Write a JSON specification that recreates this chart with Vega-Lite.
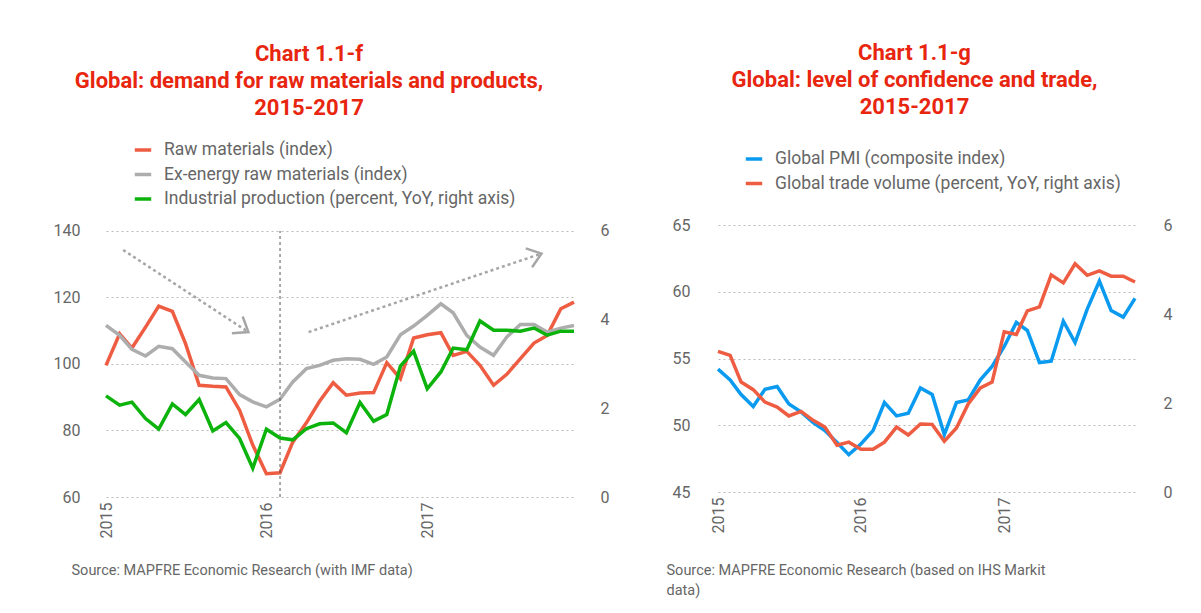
{
"$schema": "https://vega.github.io/schema/vega-lite/v6.json",
"background": "white",
"padding": {"left": 53, "top": 42, "right": 5, "bottom": 5},
"config": {
  "font": "Roboto",
  "view": {"stroke": null},
  "axis": {"domain": false, "ticks": false, "labelColor": "#666666", "labelFontSize": 16, "labelFont": "Roboto", "titleFont": "Roboto"},
  "title": {"color": "#e8260f", "fontSize": 22, "fontWeight": "bold", "lineHeight": 27, "font": "Roboto"},
  "legend": {"orient": "none", "direction": "vertical", "title": null, "symbolType": "stroke", "symbolSize": 270, "symbolStrokeWidth": 3.5, "labelFontSize": 17.5, "labelColor": "#666666", "labelFont": "Roboto", "labelOffset": 11, "rowPadding": 5.5, "labelLimit": 0}
},
"datasets": {
  "raw": [
    {"d":"2015-01-01","v":99.6},{"d":"2015-02-01","v":109.1},{"d":"2015-03-01","v":104.8},{"d":"2015-04-01","v":111.1},{"d":"2015-05-01","v":117.4},{"d":"2015-06-01","v":115.8},{"d":"2015-07-01","v":106.1},{"d":"2015-08-01","v":93.6},{"d":"2015-09-01","v":93.3},{"d":"2015-10-01","v":93.1},{"d":"2015-11-01","v":86.1},{"d":"2015-12-01","v":75.6},
    {"d":"2016-01-01","v":67.0},{"d":"2016-02-01","v":67.3},{"d":"2016-03-01","v":76.5},{"d":"2016-04-01","v":82.3},{"d":"2016-05-01","v":88.8},{"d":"2016-06-01","v":94.4},{"d":"2016-07-01","v":90.6},{"d":"2016-08-01","v":91.3},{"d":"2016-09-01","v":91.4},{"d":"2016-10-01","v":100.4},{"d":"2016-11-01","v":95.6},{"d":"2016-12-01","v":107.8},
    {"d":"2017-01-01","v":108.8},{"d":"2017-02-01","v":109.4},{"d":"2017-03-01","v":102.6},{"d":"2017-04-01","v":103.8},{"d":"2017-05-01","v":99.6},{"d":"2017-06-01","v":93.6},{"d":"2017-07-01","v":96.9},{"d":"2017-08-01","v":101.6},{"d":"2017-09-01","v":106.3},{"d":"2017-10-01","v":108.6},{"d":"2017-11-01","v":116.6},{"d":"2017-12-01","v":118.6}
  ],
  "exen": [
    {"d":"2015-01-01","v":111.6},{"d":"2015-02-01","v":108.6},{"d":"2015-03-01","v":104.4},{"d":"2015-04-01","v":102.4},{"d":"2015-05-01","v":105.3},{"d":"2015-06-01","v":104.6},{"d":"2015-07-01","v":100.6},{"d":"2015-08-01","v":96.6},{"d":"2015-09-01","v":95.8},{"d":"2015-10-01","v":95.6},{"d":"2015-11-01","v":90.8},{"d":"2015-12-01","v":88.6},
    {"d":"2016-01-01","v":87.1},{"d":"2016-02-01","v":89.4},{"d":"2016-03-01","v":94.6},{"d":"2016-04-01","v":98.6},{"d":"2016-05-01","v":99.6},{"d":"2016-06-01","v":101.1},{"d":"2016-07-01","v":101.6},{"d":"2016-08-01","v":101.4},{"d":"2016-09-01","v":99.9},{"d":"2016-10-01","v":102.1},{"d":"2016-11-01","v":108.8},{"d":"2016-12-01","v":111.4},
    {"d":"2017-01-01","v":114.6},{"d":"2017-02-01","v":118.1},{"d":"2017-03-01","v":115.4},{"d":"2017-04-01","v":108.6},{"d":"2017-05-01","v":105.1},{"d":"2017-06-01","v":102.6},{"d":"2017-07-01","v":108.1},{"d":"2017-08-01","v":111.9},{"d":"2017-09-01","v":111.9},{"d":"2017-10-01","v":109.6},{"d":"2017-11-01","v":110.8},{"d":"2017-12-01","v":111.6}
  ],
  "ip": [
    {"d":"2015-01-01","v":2.28},{"d":"2015-02-01","v":2.07},{"d":"2015-03-01","v":2.14},{"d":"2015-04-01","v":1.77},{"d":"2015-05-01","v":1.53},{"d":"2015-06-01","v":2.10},{"d":"2015-07-01","v":1.86},{"d":"2015-08-01","v":2.20},{"d":"2015-09-01","v":1.49},{"d":"2015-10-01","v":1.68},{"d":"2015-11-01","v":1.32},{"d":"2015-12-01","v":0.65},
    {"d":"2016-01-01","v":1.53},{"d":"2016-02-01","v":1.33},{"d":"2016-03-01","v":1.29},{"d":"2016-04-01","v":1.54},{"d":"2016-05-01","v":1.65},{"d":"2016-06-01","v":1.67},{"d":"2016-07-01","v":1.45},{"d":"2016-08-01","v":2.13},{"d":"2016-09-01","v":1.71},{"d":"2016-10-01","v":1.86},{"d":"2016-11-01","v":2.95},{"d":"2016-12-01","v":3.29},
    {"d":"2017-01-01","v":2.44},{"d":"2017-02-01","v":2.82},{"d":"2017-03-01","v":3.36},{"d":"2017-04-01","v":3.32},{"d":"2017-05-01","v":3.97},{"d":"2017-06-01","v":3.76},{"d":"2017-07-01","v":3.76},{"d":"2017-08-01","v":3.74},{"d":"2017-09-01","v":3.81},{"d":"2017-10-01","v":3.65},{"d":"2017-11-01","v":3.74},{"d":"2017-12-01","v":3.74}
  ],
  "pmi": [
    {"d":"2015-01-01","v":54.2},{"d":"2015-02-01","v":53.4},{"d":"2015-03-01","v":52.3},{"d":"2015-04-01","v":51.4},{"d":"2015-05-01","v":52.7},{"d":"2015-06-01","v":52.9},{"d":"2015-07-01","v":51.6},{"d":"2015-08-01","v":51.0},{"d":"2015-09-01","v":50.2},{"d":"2015-10-01","v":49.6},{"d":"2015-11-01","v":48.7},{"d":"2015-12-01","v":47.8},
    {"d":"2016-01-01","v":48.6},{"d":"2016-02-01","v":49.6},{"d":"2016-03-01","v":51.7},{"d":"2016-04-01","v":50.7},{"d":"2016-05-01","v":50.9},{"d":"2016-06-01","v":52.8},{"d":"2016-07-01","v":52.3},{"d":"2016-08-01","v":49.3},{"d":"2016-09-01","v":51.7},{"d":"2016-10-01","v":51.9},{"d":"2016-11-01","v":53.4},{"d":"2016-12-01","v":54.4},
    {"d":"2017-01-01","v":55.9},{"d":"2017-02-01","v":57.7},{"d":"2017-03-01","v":57.1},{"d":"2017-04-01","v":54.7},{"d":"2017-05-01","v":54.8},{"d":"2017-06-01","v":57.8},{"d":"2017-07-01","v":56.2},{"d":"2017-08-01","v":58.7},{"d":"2017-09-01","v":60.8},{"d":"2017-10-01","v":58.6},{"d":"2017-11-01","v":58.1},{"d":"2017-12-01","v":59.5}
  ],
  "trade": [
    {"d":"2015-01-01","v":3.16},{"d":"2015-02-01","v":3.07},{"d":"2015-03-01","v":2.47},{"d":"2015-04-01","v":2.30},{"d":"2015-05-01","v":2.02},{"d":"2015-06-01","v":1.91},{"d":"2015-07-01","v":1.71},{"d":"2015-08-01","v":1.81},{"d":"2015-09-01","v":1.61},{"d":"2015-10-01","v":1.46},{"d":"2015-11-01","v":1.05},{"d":"2015-12-01","v":1.12},
    {"d":"2016-01-01","v":0.96},{"d":"2016-02-01","v":0.96},{"d":"2016-03-01","v":1.12},{"d":"2016-04-01","v":1.46},{"d":"2016-05-01","v":1.28},{"d":"2016-06-01","v":1.53},{"d":"2016-07-01","v":1.52},{"d":"2016-08-01","v":1.14},{"d":"2016-09-01","v":1.44},{"d":"2016-10-01","v":1.98},{"d":"2016-11-01","v":2.34},{"d":"2016-12-01","v":2.47},
    {"d":"2017-01-01","v":3.60},{"d":"2017-02-01","v":3.54},{"d":"2017-03-01","v":4.07},{"d":"2017-04-01","v":4.16},{"d":"2017-05-01","v":4.88},{"d":"2017-06-01","v":4.70},{"d":"2017-07-01","v":5.13},{"d":"2017-08-01","v":4.87},{"d":"2017-09-01","v":4.97},{"d":"2017-10-01","v":4.85},{"d":"2017-11-01","v":4.85},{"d":"2017-12-01","v":4.72}
  ]
},
"spacing": 57,
"resolve": {"scale": {"color": "independent"}, "legend": {"color": "independent"}},
"hconcat": [
  {
    "width": 468,
    "height": 272,
    "title": {"text": ["Chart 1.1-f", "Global: demand for raw materials and products,", "2015-2017"], "offset": 20, "dx": -31, "frame": "group", "anchor": "middle"},
    "resolve": {"scale": {"y": "independent"}},
    "layer": [
      {
        "layer": [
          {
            "data": {"name": "raw"},
            "mark": {"type": "line", "strokeWidth": 3.5},
            "encoding": {
              "x": {"field": "d", "type": "temporal",
                    "scale": {"domain": [{"year": 2015, "month": 1, "date": 1}, {"year": 2017, "month": 12, "date": 1}]},
                    "axis": {"values": [{"year": 2015, "month": 1, "date": 1}, {"year": 2016, "month": 1, "date": 1}, {"year": 2017, "month": 1, "date": 1}],
                             "format": "%Y", "labelAngle": -90, "labelAlign": "right", "labelBaseline": "middle", "labelPadding": 5, "grid": false,
                             "title": "Source: MAPFRE Economic Research (with IMF data)", "titleFontSize": 14.5, "titleFontWeight": "normal", "titleColor": "#666666",
                             "titleAnchor": "start", "titleAlign": "left", "titleBaseline": "top", "titleX": -35, "titleY": 66}},
              "y": {"field": "v", "type": "quantitative", "scale": {"domain": [60, 141.8], "nice": false, "zero": false},
                    "axis": {"orient": "left", "values": [60, 80, 100, 120, 140], "grid": true, "gridDash": [2, 3], "gridColor": "#bbbbbb", "gridWidth": 1, "labelPadding": 26, "title": null}},
              "color": {"datum": "Raw materials (index)",
                        "scale": {"domain": ["Raw materials (index)", "Ex-energy raw materials (index)", "Industrial production (percent, YoY, right axis)"], "range": ["#ee5c42", "#adadad", "#0db30d"]},
                        "legend": {"legendX": 27, "legendY": -85}}
            }
          },
          {
            "data": {"name": "exen"},
            "mark": {"type": "line", "strokeWidth": 3.5},
            "encoding": {
              "x": {"field": "d", "type": "temporal"},
              "y": {"field": "v", "type": "quantitative"},
              "color": {"datum": "Ex-energy raw materials (index)"}
            }
          },
          {
            "data": {"values": [{"d": "2016-02-01", "lo": 60, "hi": 140}]},
            "mark": {"type": "rule", "color": "#555555", "strokeDash": [3, 3], "strokeWidth": 1},
            "encoding": {"x": {"field": "d", "type": "temporal"}, "y": {"field": "lo", "type": "quantitative"}, "y2": {"field": "hi"}}
          },
          {
            "data": {"values": [
              {"x": "2015-02-09", "y": 134.3, "x2": "2015-11-21", "y2": 109.6},
              {"x": "2016-04-06", "y": 109.6, "x2": "2017-09-18", "y2": 133.2}
            ]},
            "mark": {"type": "rule", "color": "#a6a6a6", "strokeDash": [3, 3], "strokeWidth": 2.5},
            "encoding": {
              "x": {"field": "x", "type": "temporal"}, "x2": {"field": "x2"},
              "y": {"field": "y", "type": "quantitative"}, "y2": {"field": "y2"}
            }
          },
          {
            "data": {"values": [{"x": "2015-11-21", "y": 109.6}]},
            "mark": {"type": "point", "shape": "M-1,-0.75L0,0L-1,0.75", "filled": false, "size": 700, "strokeWidth": 2.5, "color": "#a6a6a6", "angle": 33, "opacity": 1},
            "encoding": {"x": {"field": "x", "type": "temporal"}, "y": {"field": "y", "type": "quantitative"}}
          },
          {
            "data": {"values": [{"x": "2017-09-18", "y": 133.2}]},
            "mark": {"type": "point", "shape": "M-1,-0.75L0,0L-1,0.75", "filled": false, "size": 700, "strokeWidth": 2.5, "color": "#a6a6a6", "angle": -18.5, "opacity": 1},
            "encoding": {"x": {"field": "x", "type": "temporal"}, "y": {"field": "y", "type": "quantitative"}}
          }
        ]
      },
      {
        "data": {"name": "ip"},
        "mark": {"type": "line", "strokeWidth": 3.5},
        "encoding": {
          "x": {"field": "d", "type": "temporal"},
          "y": {"field": "v", "type": "quantitative", "scale": {"domain": [0, 6.135], "nice": false},
                "axis": {"orient": "right", "values": [0, 2, 4, 6], "grid": false, "labelPadding": 26, "title": null}},
          "color": {"datum": "Industrial production (percent, YoY, right axis)"}
        }
      }
    ]
  },
  {
    "width": 417,
    "height": 267,
    "title": {"text": ["Chart 1.1-g", "Global: level of confidence and trade,", "2015-2017"], "offset": 30, "dx": -12, "frame": "group", "anchor": "middle"},
    "resolve": {"scale": {"y": "independent"}},
    "layer": [
      {
        "data": {"name": "pmi"},
        "mark": {"type": "line", "strokeWidth": 3.5},
        "encoding": {
          "x": {"field": "d", "type": "temporal",
                "scale": {"domain": [{"year": 2015, "month": 1, "date": 1}, {"year": 2017, "month": 12, "date": 1}]},
                "axis": {"values": [{"year": 2015, "month": 1, "date": 1}, {"year": 2016, "month": 1, "date": 1}, {"year": 2017, "month": 1, "date": 1}],
                         "format": "%Y", "labelAngle": -90, "labelAlign": "right", "labelBaseline": "middle", "labelPadding": 5, "grid": false,
                         "title": ["Source: MAPFRE Economic Research (based on IHS Markit", "data)"], "titleFontSize": 14.5, "titleFontWeight": "normal", "titleColor": "#666666", "titleLineHeight": 20,
                         "titleAnchor": "start", "titleAlign": "left", "titleBaseline": "top", "titleX": -52, "titleY": 71}},
          "y": {"field": "v", "type": "quantitative", "scale": {"domain": [45, 65], "nice": false, "zero": false},
                "axis": {"orient": "left", "values": [45, 50, 55, 60, 65], "grid": true, "gridDash": [2, 3], "gridColor": "#bbbbbb", "gridWidth": 1, "labelPadding": 28, "title": null}},
          "color": {"datum": "Global PMI (composite index)",
                    "scale": {"domain": ["Global PMI (composite index)", "Global trade volume (percent, YoY, right axis)"], "range": ["#0a9bf0", "#ee5c42"]},
                    "legend": {"legendX": 26, "legendY": -76}}
        }
      },
      {
        "data": {"name": "trade"},
        "mark": {"type": "line", "strokeWidth": 3.5},
        "encoding": {
          "x": {"field": "d", "type": "temporal"},
          "y": {"field": "v", "type": "quantitative", "scale": {"domain": [0, 6], "nice": false},
                "axis": {"orient": "right", "values": [0, 2, 4, 6], "grid": false, "labelPadding": 28, "title": null}},
          "color": {"datum": "Global trade volume (percent, YoY, right axis)"}
        }
      }
    ]
  }
]
}
